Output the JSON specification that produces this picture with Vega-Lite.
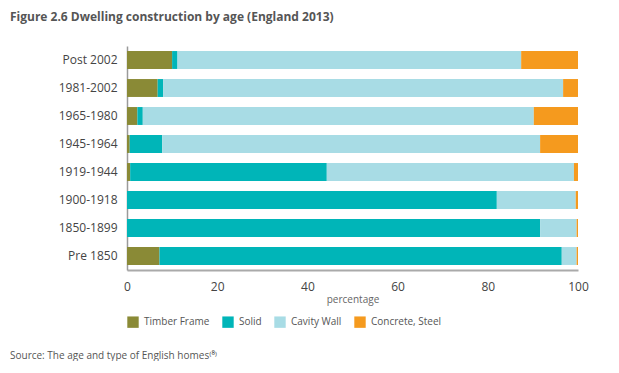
{
  "$schema": "https://vega.github.io/schema/vega-lite/v6.json",
  "autosize": {"type": "pad"},
  "padding": {"left": 10, "top": 11, "right": 0, "bottom": 0},
  "background": "white",
  "title": {
    "text": "Figure 2.6 Dwelling construction by age (England 2013)",
    "anchor": "start", "frame": "group", "dx": -117, "offset": 22,
    "font": "Open Sans", "fontSize": 12, "fontWeight": "bold", "color": "#555555"
  },
  "config": {"view": {"stroke": null}, "font": "Open Sans", "concat": {"spacing": 0}},
  "resolve": {"legend": {"color": "independent"}, "scale": {"color": "independent"}},
  "vconcat": [
    {
      "width": 451,
      "height": 224,
      "title": {
        "text": "Source: The age and type of English homes⁽⁸⁾",
        "orient": "bottom", "anchor": "start", "frame": "group", "dx": -117, "offset": 23,
        "font": "Open Sans", "fontSize": 10, "fontWeight": "normal", "color": "#555555"
      },
      "data": {"values": [
        {"age": "Post 2002", "type": "Timber Frame", "k": 1, "pct": 10},
        {"age": "Post 2002", "type": "Solid", "k": 2, "pct": 1.2},
        {"age": "Post 2002", "type": "Cavity Wall", "k": 3, "pct": 76.2},
        {"age": "Post 2002", "type": "Concrete, Steel", "k": 4, "pct": 12.6},
        {"age": "1981-2002", "type": "Timber Frame", "k": 1, "pct": 6.8},
        {"age": "1981-2002", "type": "Solid", "k": 2, "pct": 1.2},
        {"age": "1981-2002", "type": "Cavity Wall", "k": 3, "pct": 88.7},
        {"age": "1981-2002", "type": "Concrete, Steel", "k": 4, "pct": 3.3},
        {"age": "1965-1980", "type": "Timber Frame", "k": 1, "pct": 2.3},
        {"age": "1965-1980", "type": "Solid", "k": 2, "pct": 1.2},
        {"age": "1965-1980", "type": "Cavity Wall", "k": 3, "pct": 86.7},
        {"age": "1965-1980", "type": "Concrete, Steel", "k": 4, "pct": 9.8},
        {"age": "1945-1964", "type": "Timber Frame", "k": 1, "pct": 0.6},
        {"age": "1945-1964", "type": "Solid", "k": 2, "pct": 7.2},
        {"age": "1945-1964", "type": "Cavity Wall", "k": 3, "pct": 83.8},
        {"age": "1945-1964", "type": "Concrete, Steel", "k": 4, "pct": 8.4},
        {"age": "1919-1944", "type": "Timber Frame", "k": 1, "pct": 0.7},
        {"age": "1919-1944", "type": "Solid", "k": 2, "pct": 43.6},
        {"age": "1919-1944", "type": "Cavity Wall", "k": 3, "pct": 54.8},
        {"age": "1919-1944", "type": "Concrete, Steel", "k": 4, "pct": 0.9},
        {"age": "1900-1918", "type": "Timber Frame", "k": 1, "pct": 0},
        {"age": "1900-1918", "type": "Solid", "k": 2, "pct": 82.0},
        {"age": "1900-1918", "type": "Cavity Wall", "k": 3, "pct": 17.5},
        {"age": "1900-1918", "type": "Concrete, Steel", "k": 4, "pct": 0.5},
        {"age": "1850-1899", "type": "Timber Frame", "k": 1, "pct": 0},
        {"age": "1850-1899", "type": "Solid", "k": 2, "pct": 91.6},
        {"age": "1850-1899", "type": "Cavity Wall", "k": 3, "pct": 8.1},
        {"age": "1850-1899", "type": "Concrete, Steel", "k": 4, "pct": 0.3},
        {"age": "Pre 1850", "type": "Timber Frame", "k": 1, "pct": 7.2},
        {"age": "Pre 1850", "type": "Solid", "k": 2, "pct": 89.2},
        {"age": "Pre 1850", "type": "Cavity Wall", "k": 3, "pct": 3.3},
        {"age": "Pre 1850", "type": "Concrete, Steel", "k": 4, "pct": 0.3}
      ]},
      "mark": {"type": "bar"},
      "encoding": {
        "y": {
          "field": "age", "type": "nominal",
          "sort": ["Post 2002", "1981-2002", "1965-1980", "1945-1964", "1919-1944", "1900-1918", "1850-1899", "Pre 1850"],
          "scale": {"paddingInner": 0.36, "paddingOuter": 0.18},
          "axis": {
            "title": null, "ticks": false, "labelPadding": 10,
            "labelFontSize": 12, "labelColor": "#444444", "labelFont": "Open Sans",
            "domainColor": "#9a9a9a", "domainWidth": 1.5
          }
        },
        "x": {
          "field": "pct", "type": "quantitative", "stack": "zero",
          "scale": {"domain": [0, 100], "nice": false},
          "axis": {
            "title": "percentage", "titleFontSize": 10, "titleFontWeight": "normal", "titleColor": "#666666",
            "titlePadding": 2, "ticks": false, "grid": false, "values": [0, 20, 40, 60, 80, 100],
            "labelFlush": false, "labelPadding": 11, "labelFontSize": 12, "labelColor": "#444444", "labelFont": "Open Sans",
            "domainColor": "#aaaaaa", "domainWidth": 2
          }
        },
        "color": {
          "field": "type", "type": "nominal",
          "scale": {
            "domain": ["Timber Frame", "Solid", "Cavity Wall", "Concrete, Steel"],
            "range": ["#8a8a36", "#00b5b8", "#a8dce5", "#f59a1e"]
          },
          "legend": {
            "orient": "bottom", "direction": "horizontal", "title": null,
            "symbolType": "square", "symbolSize": 130, "symbolStrokeWidth": 0,
            "labelFontSize": 10, "labelColor": "#555555", "labelFont": "Open Sans",
            "columnPadding": 12, "labelOffset": 5, "offset": 12
          }
        },
        "order": {"field": "k", "type": "quantitative"}
      }
    }
  ]
}
